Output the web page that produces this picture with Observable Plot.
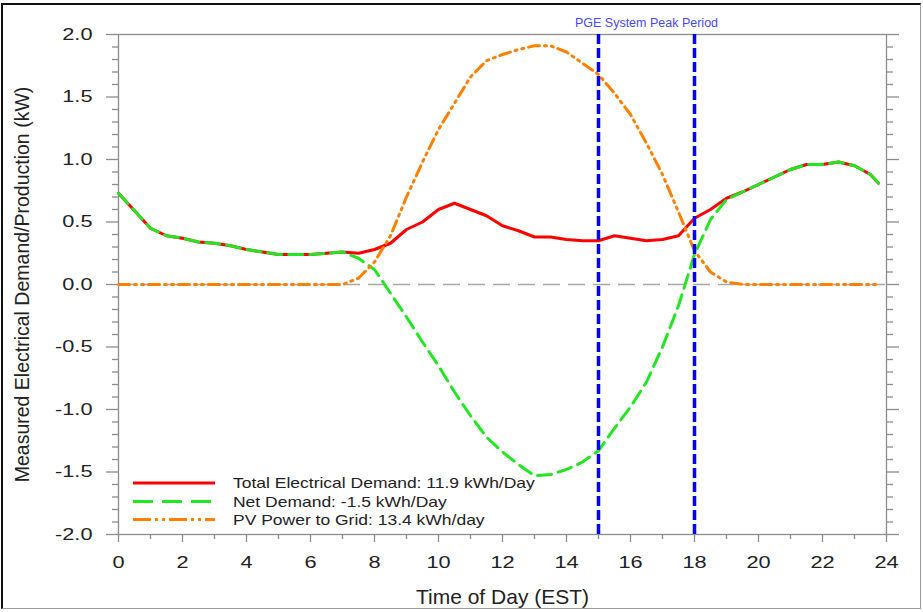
<!DOCTYPE html>
<html>
<head>
<meta charset="utf-8">
<script src="https://cdn.jsdelivr.net/npm/d3@7"></script>
<script src="https://cdn.jsdelivr.net/npm/@observablehq/plot@0.6"></script>
<style>
  body { margin: 0; background: #fff; }
  #wrap { position: relative; width: 923px; height: 612px; overflow: hidden; background: #fff;
          font-family: "Liberation Sans", Arial, sans-serif; }
  #border { position: absolute; left: 1px; top: 3px; width: 917px; height: 603px;
            border-top: 2px solid #111; border-left: 2px solid #111;
            border-right: 1.5px solid #9a9a9a; border-bottom: 1.5px solid #9a9a9a; }
  #wrap svg { position: absolute; left: 0; top: 0; }
</style>
</head>
<body>
<div id="wrap"><div id="border"></div></div>
<script>
// Half-hourly readings over one day (hour of day, EST)
const hours = [0, 0.5, 1, 1.5, 2, 2.5, 3, 3.5, 4, 4.5, 5, 5.5, 6, 6.5, 7, 7.5, 8, 8.5, 9, 9.5,
  10, 10.5, 11, 11.5, 12, 12.5, 13, 13.5, 14, 14.5, 15, 15.5, 16, 16.5, 17, 17.5, 18, 18.5, 19, 19.5,
  20, 20.5, 21, 21.5, 22, 22.5, 23, 23.5, 23.75];

// Total electrical demand (kW)
const totalDemand = [0.73, 0.59, 0.45, 0.39, 0.37, 0.34, 0.33, 0.31, 0.28, 0.26, 0.24, 0.24, 0.24, 0.25, 0.26, 0.25, 0.28, 0.33, 0.44, 0.50,
  0.60, 0.65, 0.60, 0.55, 0.47, 0.43, 0.38, 0.38, 0.36, 0.35, 0.35, 0.39, 0.37, 0.35, 0.36, 0.39, 0.53, 0.60, 0.69, 0.74,
  0.80, 0.86, 0.92, 0.96, 0.96, 0.98, 0.95, 0.88, 0.81];

// Net demand after PV (kW)
const netDemand = [0.73, 0.59, 0.45, 0.39, 0.37, 0.34, 0.33, 0.31, 0.28, 0.26, 0.24, 0.24, 0.24, 0.25, 0.26, 0.21, 0.12, -0.07, -0.26, -0.46,
  -0.65, -0.86, -1.05, -1.22, -1.34, -1.44, -1.53, -1.52, -1.48, -1.42, -1.33, -1.15, -0.98, -0.78, -0.50, -0.17, 0.24, 0.52, 0.68, 0.74,
  0.80, 0.86, 0.92, 0.96, 0.96, 0.98, 0.95, 0.88, 0.81];

// PV power exported to the grid (kW)
const pvToGrid = [0, 0, 0, 0, 0, 0, 0, 0, 0, 0, 0, 0, 0, 0, 0, 0.05, 0.18, 0.39, 0.70, 0.98,
  1.24, 1.45, 1.66, 1.79, 1.84, 1.88, 1.91, 1.91, 1.86, 1.77, 1.68, 1.53, 1.36, 1.13, 0.88, 0.58, 0.27, 0.10, 0.02, 0,
  0, 0, 0, 0, 0, 0, 0, 0, 0];

const peakPeriod = [15, 18];
const peakLabel = "PGE System Peak Period";

const xTicks = [0, 2, 4, 6, 8, 10, 12, 14, 16, 18, 20, 22, 24];
const xMinorTicks = [1, 3, 5, 7, 9, 11, 13, 15, 17, 19, 21, 23];
const yTicks = [-2, -1.5, -1, -0.5, 0, 0.5, 1, 1.5, 2];
const yMinorTicks = d3.range(-20, 21).filter(i => i % 5 !== 0).map(i => i / 10);

const legendLabels = [
  "Total Electrical Demand: 11.9 kWh/Day",
  "Net Demand: -1.5 kWh/Day",
  "PV Power to Grid: 13.4 kWh/day"
];
const xTitle = "Time of Day (EST)";
const yTitle = "Measured Electrical Demand/Production (kW)";

// Line styles, in legend order
const seriesStyle = [
  {stroke: "#ff0000", dash: null, legendDash: null},
  {stroke: "#22e622", dash: "14,7", legendDash: "20,9"},
  {stroke: "#ff8000", dash: "11,5,2,5,2,5", legendDash: "18,4,3,4,3,4"}
];

const rows = hours.map((h, i) => ({hour: h, total: totalDemand[i], net: netDemand[i], pv: pvToGrid[i]}));

const axisColor = "#8c8c8c";
const font = '"Liberation Sans", Arial, sans-serif';

const chart = Plot.plot({
  width: 923,
  height: 612,
  marginLeft: 118,
  marginRight: 37,
  marginTop: 34,
  marginBottom: 78,
  style: {fontFamily: font, fontSize: "17px", color: "#222", background: "transparent", overflow: "visible"},
  x: {domain: [0, 24]},
  y: {domain: [-2, 2]},
  marks: [
    Plot.ruleY([0], {stroke: "#a6a6a6", strokeWidth: 1.5, strokeDasharray: "17,8"}),
    Plot.frame({stroke: axisColor, strokeWidth: 1.3}),
    Plot.axisX({ticks: xTicks, tickSize: 8, tickPadding: 13, stroke: axisColor, strokeWidth: 1.3, tickFormat: d => String(d), label: null, fontSize: 17}),
    Plot.axisX({ticks: xMinorTicks, tickSize: 5, stroke: axisColor, strokeWidth: 1.3, fill: "none", label: null}),
    Plot.axisY({ticks: yTicks, tickSize: 12, tickPadding: 14, stroke: axisColor, strokeWidth: 1.3, tickFormat: d => d.toFixed(1), label: null, fontSize: 17}),
    Plot.axisY({ticks: yMinorTicks, tickSize: 6, stroke: axisColor, strokeWidth: 1.3, fill: "none", label: null}),
    Plot.axisY({ticks: yTicks, anchor: "right", tickSize: 12, stroke: axisColor, strokeWidth: 1.3, fill: "none", label: null}),
    Plot.axisY({ticks: yMinorTicks, anchor: "right", tickSize: 6, stroke: axisColor, strokeWidth: 1.3, fill: "none", label: null}),
    Plot.line(rows, {x: "hour", y: "total", stroke: seriesStyle[0].stroke, strokeWidth: 3}),
    Plot.line(rows, {x: "hour", y: "net", stroke: seriesStyle[1].stroke, strokeWidth: 3, strokeDasharray: seriesStyle[1].dash}),
    Plot.line(rows, {x: "hour", y: "pv", stroke: seriesStyle[2].stroke, strokeWidth: 3, strokeDasharray: seriesStyle[2].dash}),
    Plot.ruleX(peakPeriod, {stroke: "#0000ff", strokeWidth: 3.5, strokeDasharray: "10,4"}),
    Plot.text([peakPeriod], {x: d => (d[0] + d[1]) / 2, text: () => peakLabel, frameAnchor: "top", dy: -16,
      fill: "#4848ff", fontSize: 12.5, ariaLabel: "peak label"}),
    Plot.text([xTitle], {frameAnchor: "bottom", dy: 69, fontSize: 21, fill: "#222", ariaLabel: "x title"}),
    Plot.text([yTitle], {frameAnchor: "left", dx: -96, rotate: -90, textAnchor: "middle", fontSize: 19.5, fill: "#222", ariaLabel: "y title"})
  ]
});

// Widen horizontal text glyphs about their anchor point
function stretchText(nodes, k) {
  nodes.forEach(t => {
    const tr = t.getAttribute("transform") || "";
    t.setAttribute("transform", `${tr} scale(${k},1)`);
  });
}
stretchText(chart.querySelectorAll('g[aria-label="x-axis tick label"] text, g[aria-label="y-axis tick label"] text'), 1.28);
stretchText(chart.querySelectorAll('g[aria-label="x title"] text'), 1.12);
stretchText(chart.querySelectorAll('g[aria-label="peak label"] text'), 1.15);

const wrap = document.getElementById("wrap");
wrap.appendChild(chart);

// Legend in the lower-left corner of the plot area
const legend = d3.select(wrap).append("svg")
  .attr("width", 923).attr("height", 612)
  .style("pointer-events", "none");
const rowY = [483, 501.5, 519.5];
legendLabels.forEach((label, i) => {
  const s = seriesStyle[i];
  legend.append("line")
    .attr("x1", 133).attr("x2", 215).attr("y1", rowY[i]).attr("y2", rowY[i])
    .attr("stroke", s.stroke).attr("stroke-width", 3)
    .attr("stroke-dasharray", s.legendDash);
  legend.append("text")
    .attr("transform", `translate(233,${rowY[i] + 5}) scale(1.25,1)`)
    .attr("font-family", font).attr("font-size", 14).attr("fill", "#222")
    .text(label);
});
</script>
</body>
</html>
